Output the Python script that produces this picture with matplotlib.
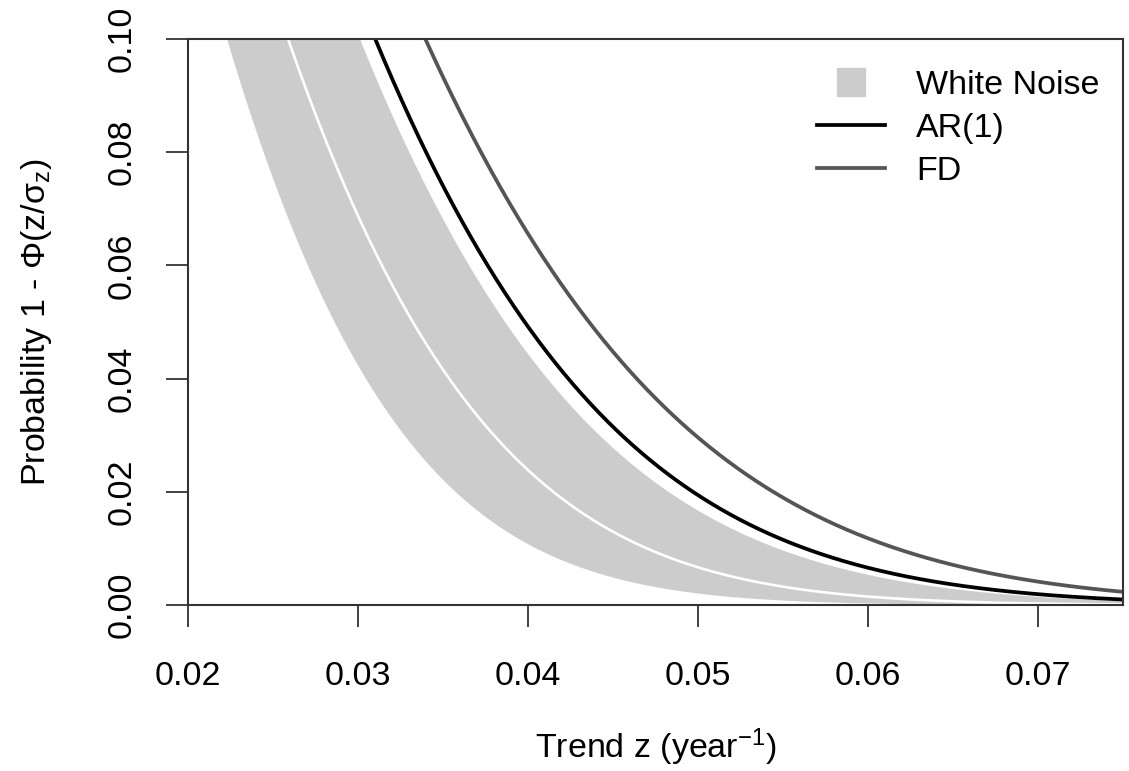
import math
import numpy as np
import matplotlib
matplotlib.use("Agg")
import matplotlib.pyplot as plt
from matplotlib.lines import Line2D

# --- data: sigma_z of each model (curve = 1 - Phi(z/sigma_z)) ---
sigma_wn_low = 0.0174   # lower edge of White Noise band
sigma_wn_mid = 0.0202   # white central line
sigma_wn_high = 0.0235  # upper edge of White Noise band
sigma_ar1 = 0.0242      # AR(1)
sigma_fd = 0.0265       # FD

x_ticks = [0.02, 0.03, 0.04, 0.05, 0.06, 0.07]
x_tick_labels = ["0.02", "0.03", "0.04", "0.05", "0.06", "0.07"]
y_ticks = [0.00, 0.02, 0.04, 0.06, 0.08, 0.10]
y_tick_labels = ["0.00", "0.02", "0.04", "0.06", "0.08", "0.10"]
legend_labels = ["White Noise", "AR(1)", "FD"]

plt.rcParams["font.family"] = ["Liberation Sans", "DejaVu Sans"]
plt.rcParams["mathtext.fontset"] = "custom"
plt.rcParams["mathtext.rm"] = "Liberation Sans"
plt.rcParams["mathtext.it"] = "Liberation Sans"
plt.rcParams["mathtext.sf"] = "Liberation Sans"


def tail(z, s):
    return np.array([0.5 * math.erfc(v / (s * math.sqrt(2.0))) for v in z])


z = np.linspace(0.02, 0.075, 1200)

fig = plt.figure(figsize=(11.29, 7.71), dpi=100)
ax = fig.add_axes([188 / 1129, (771 - 605) / 771, (1123 - 188) / 1129, (605 - 39) / 771])

band_col = "#cccccc"
fd_col = "#555555"
ax.fill_between(z, tail(z, sigma_wn_low), tail(z, sigma_wn_high), color=band_col, lw=0)
ax.plot(z, tail(z, sigma_wn_mid), color="white", lw=1.9)
ax.plot(z, tail(z, sigma_ar1), color="black", lw=2.7)
ax.plot(z, tail(z, sigma_fd), color=fd_col, lw=2.7)

ax.set_xlim(0.02, 0.075)
ax.set_ylim(0.0, 0.10)

fs = 24.5
ax.set_xticks(x_ticks)
ax.set_xticklabels(x_tick_labels)
ax.set_yticks(y_ticks)
ax.set_yticklabels(y_tick_labels, rotation=90, va="center")
ax.tick_params(axis="both", length=16, width=1.3, color="#333333", labelsize=fs)
ax.tick_params(axis="x", pad=24)
ax.tick_params(axis="y", pad=20)
for sp in ax.spines.values():
    sp.set_linewidth(1.5)
    sp.set_color("#333333")

ax.set_xlabel("Trend z (year$^{-1}$)", fontsize=fs, labelpad=25)
ax.set_ylabel("Probability 1 - Φ(z/σ$_{\\mathrm{z}}$)", fontsize=fs, labelpad=38)

handles = [
    Line2D([], [], color=band_col, marker="s", markersize=20, linestyle="none"),
    Line2D([], [], color="black", lw=2.7),
    Line2D([], [], color=fd_col, lw=2.7),
]
ax.legend(handles, legend_labels, loc="upper left",
          bbox_to_anchor=((817 - 188) / 935, (605 - 70) / 566),
          frameon=False, fontsize=fs, handlelength=1.99, handletextpad=0.92,
          labelspacing=0.35, borderpad=0, borderaxespad=0)

fig.savefig("out.png", dpi=100)
